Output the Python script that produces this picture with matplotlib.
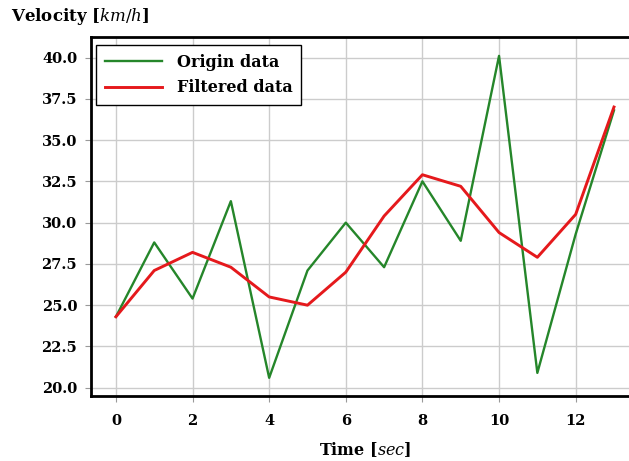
import matplotlib
matplotlib.use("Agg")
import matplotlib.pyplot as plt

time_sec = list(range(14))
origin_data = [24.3, 28.8, 25.4, 31.3, 20.6, 27.1, 30.0, 27.3, 32.5, 28.9, 40.1, 20.9, 29.3, 36.8]
filtered_data = [24.3, 27.1, 28.2, 27.3, 25.5, 25.0, 27.0, 30.4, 32.9, 32.2, 29.4, 27.9, 30.5, 37.0]
x_ticks = [0, 2, 4, 6, 8, 10, 12]
y_ticks = [20.0, 22.5, 25.0, 27.5, 30.0, 32.5, 35.0, 37.5, 40.0]

plt.rcParams['mathtext.fontset'] = 'custom'
plt.rcParams['mathtext.it'] = 'DejaVu Serif:italic'
plt.rcParams['mathtext.rm'] = 'DejaVu Serif'

fig = plt.figure(figsize=(6.29, 4.61), dpi=100)
ax = fig.add_axes([0.1447, 0.141, 0.871, 0.779])

ax.plot(time_sec, origin_data, color='#25862a', lw=1.7, label='Origin data')
ax.plot(time_sec, filtered_data, color='#e5191c', lw=2.1, label='Filtered data')

ax.set_xlim(-0.65, 13.65)
ax.set_ylim(19.5, 41.25)
ax.set_xticks(x_ticks)
ax.set_yticks(y_ticks)
ax.set_yticklabels([f"{v:.1f}" for v in y_ticks])

ax.grid(True, color='#cccccc', lw=1.0)
ax.set_axisbelow(True)
for s in ax.spines.values():
    s.set_linewidth(2.0)
    s.set_color('black')
ax.spines['right'].set_visible(False)

ax.tick_params(axis='both', direction='out', length=4, width=0.8, color='#999999',
               labelsize=10.5)
ax.tick_params(axis='x', pad=9)
ax.tick_params(axis='y', pad=6)
for lab in ax.get_xticklabels() + ax.get_yticklabels():
    lab.set_fontfamily('DejaVu Serif')
    lab.set_fontweight('bold')

fig.text(0.018, 0.965, r'Velocity [$\mathit{km/h}$]', ha='left', va='center',
         fontsize=12, fontweight='bold', family='DejaVu Serif')
ax.set_xlabel(r'Time [$\mathit{sec}$]', fontsize=11.5, fontweight='bold',
              family='DejaVu Serif', labelpad=9)

leg = ax.legend(loc='upper left', bbox_to_anchor=(0.009, 0.978), frameon=True,
                fancybox=False, edgecolor='black', framealpha=1.0,
                prop={'family': 'DejaVu Serif', 'weight': 'bold', 'size': 11.5},
                handlelength=3.6, handletextpad=0.9, borderaxespad=0.0,
                borderpad=0.55, labelspacing=0.55)
leg.get_frame().set_linewidth(1.0)

fig.savefig('out.png', dpi=100, facecolor='white')
